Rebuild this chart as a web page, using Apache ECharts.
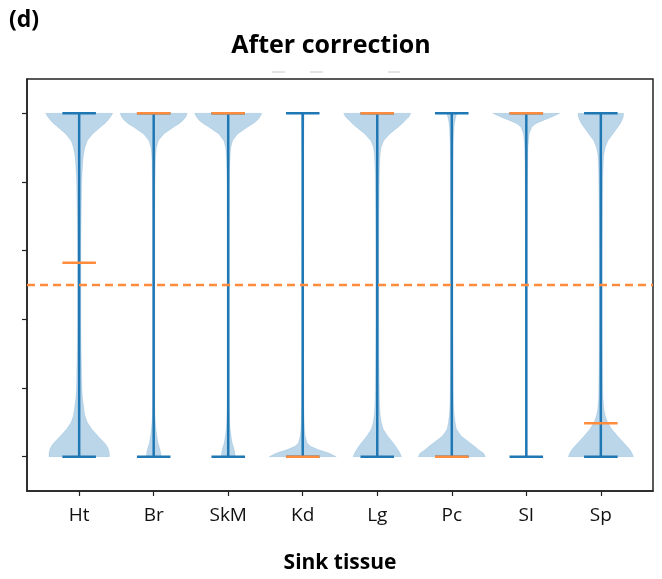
<!DOCTYPE html>
<html>
<head>
<meta charset="utf-8">
<script src="https://cdn.jsdelivr.net/npm/echarts@6/dist/echarts.min.js"></script>
<style>
html,body{margin:0;padding:0;background:#fff;}
#chart{width:662px;height:579px;}
</style>
</head>
<body>
<div id="chart"></div>
<script>
// ---- data ----
const categories = ['Ht', 'Br', 'SkM', 'Kd', 'Lg', 'Pc', 'SI', 'Sp'];
const minValues = [0, 0, 0, 0, 0, 0, 0, 0];
const maxValues = [1, 1, 1, 1, 1, 1, 1, 1];
const medianValues = [0.565, 1, 1, 0, 1, 0, 1, 0.097];
const thresholdValue = 0.5;
const yTicks = [0, 0.2, 0.4, 0.6, 0.8, 1.0];

// violin density profiles (relative half-width, 1 = widest) at these y values
const profileY = [0, 0.01, 0.02, 0.03, 0.04, 0.06, 0.08, 0.1, 0.12, 0.14, 0.17, 0.2, 0.3, 0.4, 0.5, 0.6, 0.7, 0.8, 0.83, 0.86, 0.88, 0.9, 0.92, 0.94, 0.96, 0.97, 0.98, 0.99, 1.0];
const densityHt  = [0.9, 0.9, 0.88, 0.83, 0.76, 0.56, 0.38, 0.24, 0.17, 0.14, 0.1, 0.08, 0.06, 0.05, 0.05, 0.05, 0.06, 0.075, 0.09, 0.11, 0.13, 0.17, 0.24, 0.4, 0.64, 0.76, 0.86, 0.94, 1.0];
const densityBr  = [0.22, 0.21, 0.19, 0.16, 0.13, 0.095, 0.07, 0.05, 0.04, 0.035, 0.03, 0.03, 0.03, 0.03, 0.03, 0.03, 0.03, 0.04, 0.045, 0.05, 0.06, 0.08, 0.14, 0.3, 0.6, 0.76, 0.88, 0.96, 1.0];
const densitySkM = [0.21, 0.2, 0.18, 0.15, 0.12, 0.085, 0.06, 0.045, 0.04, 0.035, 0.03, 0.03, 0.03, 0.03, 0.03, 0.03, 0.03, 0.035, 0.04, 0.05, 0.06, 0.075, 0.13, 0.28, 0.58, 0.74, 0.87, 0.95, 1.0];
const densityKd  = [1.0, 0.8, 0.48, 0.23, 0.13, 0.075, 0.055, 0.045, 0.04, 0.035, 0.03, 0.03, 0.025, 0.025, 0.025, 0.025, 0.025, 0.025, 0.025, 0.025, 0.025, 0.03, 0.03, 0.03, 0.035, 0.035, 0.04, 0.04, 0.04];
const densityLg  = [0.72, 0.68, 0.62, 0.55, 0.48, 0.31, 0.18, 0.12, 0.09, 0.075, 0.065, 0.06, 0.05, 0.045, 0.045, 0.045, 0.05, 0.06, 0.065, 0.075, 0.085, 0.11, 0.19, 0.37, 0.63, 0.74, 0.84, 0.95, 1.0];
const densityPc  = [1.0, 0.95, 0.8, 0.68, 0.55, 0.28, 0.14, 0.1, 0.075, 0.06, 0.05, 0.045, 0.04, 0.035, 0.035, 0.035, 0.035, 0.04, 0.04, 0.04, 0.045, 0.045, 0.05, 0.06, 0.07, 0.08, 0.1, 0.12, 0.15];
const densitySI  = [0.02, 0.02, 0.02, 0.02, 0.02, 0.02, 0.02, 0.02, 0.02, 0.02, 0.02, 0.02, 0.02, 0.02, 0.02, 0.02, 0.025, 0.03, 0.035, 0.04, 0.045, 0.05, 0.065, 0.085, 0.16, 0.28, 0.52, 0.78, 1.0];
const densitySp  = [0.97, 0.93, 0.87, 0.78, 0.69, 0.5, 0.33, 0.2, 0.13, 0.09, 0.065, 0.06, 0.05, 0.045, 0.045, 0.045, 0.05, 0.06, 0.065, 0.075, 0.09, 0.13, 0.21, 0.36, 0.51, 0.58, 0.63, 0.67, 0.68];
const densities = [densityHt, densityBr, densitySkM, densityKd, densityLg, densityPc, densitySI, densitySp];

// ---- styling ----
const BLUE = '#1f77b4';
const ORANGE = '#ff8c3c';
const HALF_WIDTH = 0.45;   // violin max half-width in x units
const CAP_HALF = 0.225;    // whisker cap half-length in x units
const FONT = '"Open Sans", "DejaVu Sans", sans-serif';

const positions = categories.map((c, i) => i + 1);
const idxData = categories.map((c, i) => [i + 1, i]);

function violinItem(params, api) {
  const i = api.value(1);
  const pos = api.value(0);
  const d = densities[i];
  const pts = [];
  for (let k = 0; k < profileY.length; k++) {
    pts.push(api.coord([pos - d[k] * HALF_WIDTH, profileY[k]]));
  }
  for (let k = profileY.length - 1; k >= 0; k--) {
    pts.push(api.coord([pos + d[k] * HALF_WIDTH, profileY[k]]));
  }
  return {
    type: 'polygon',
    shape: { points: pts, smooth: 0 },
    style: { fill: 'rgba(31,119,180,0.3)', stroke: 'rgba(31,119,180,0.12)', lineWidth: 1 }
  };
}

function whiskerItem(params, api) {
  const i = api.value(1);
  const pos = api.value(0);
  const lo = api.coord([pos, minValues[i]]);
  const hi = api.coord([pos, maxValues[i]]);
  const loL = api.coord([pos - CAP_HALF, minValues[i]]);
  const loR = api.coord([pos + CAP_HALF, minValues[i]]);
  const hiL = api.coord([pos - CAP_HALF, maxValues[i]]);
  const hiR = api.coord([pos + CAP_HALF, maxValues[i]]);
  const st = { stroke: BLUE, lineWidth: 2.5 };
  return {
    type: 'group',
    children: [
      { type: 'line', shape: { x1: lo[0], y1: lo[1], x2: hi[0], y2: hi[1] }, style: st },
      { type: 'line', shape: { x1: loL[0], y1: loL[1], x2: loR[0], y2: loR[1] }, style: st },
      { type: 'line', shape: { x1: hiL[0], y1: hiL[1], x2: hiR[0], y2: hiR[1] }, style: st }
    ]
  };
}

function medianItem(params, api) {
  const i = api.value(1);
  const pos = api.value(0);
  const a = api.coord([pos - CAP_HALF, medianValues[i]]);
  const b = api.coord([pos + CAP_HALF, medianValues[i]]);
  return {
    type: 'line',
    shape: { x1: a[0], y1: a[1], x2: b[0], y2: b[1] },
    style: { stroke: ORANGE, lineWidth: 2.5 }
  };
}

const chart = echarts.init(document.getElementById('chart'), null, { renderer: 'canvas' });
chart.setOption({
  animation: false,
  backgroundColor: '#fff',
  title: {
    text: 'After correction',
    left: 'center',
    top: 28,
    textStyle: { fontFamily: FONT, fontWeight: 'bold', fontSize: 25, color: '#000' }
  },
  graphic: [
    { type: 'text', left: 9, top: 9, style: { text: '(d)', fontFamily: FONT, fontWeight: 'bold', fontSize: 23, fill: '#000' } },
    { type: 'line', shape: { x1: 272, y1: 72, x2: 285, y2: 72 }, style: { stroke: '#c8c8c8', lineWidth: 1 } },
    { type: 'line', shape: { x1: 310, y1: 72, x2: 323, y2: 72 }, style: { stroke: '#c8c8c8', lineWidth: 1 } },
    { type: 'line', shape: { x1: 388, y1: 72, x2: 400, y2: 72 }, style: { stroke: '#c8c8c8', lineWidth: 1 } }
  ],
  grid: {
    left: 27, right: 9, top: 79, bottom: 83,
    show: true, borderColor: '#222', borderWidth: 1.5
  },
  xAxis: {
    type: 'value',
    min: 0.3, max: 8.7,
    name: 'Sink tissue',
    nameLocation: 'middle',
    nameGap: 62,
    nameTextStyle: { fontFamily: FONT, fontWeight: 'bold', fontSize: 21, color: '#000' },
    axisLine: { show: true, onZero: false, lineStyle: { color: '#222', width: 1.5 } },
    splitLine: { show: false },
    axisTick: { show: true, length: 5, customValues: positions, lineStyle: { color: '#222', width: 1.2 } },
    axisLabel: {
      customValues: positions,
      margin: 15,
      fontFamily: FONT, fontSize: 19, color: '#111',
      formatter: v => categories[Math.round(v) - 1] || ''
    }
  },
  yAxis: {
    type: 'value',
    min: -0.1, max: 1.1,
    axisLine: { show: true, onZero: false, lineStyle: { color: '#222', width: 1.5 } },
    splitLine: { show: false },
    axisTick: { show: true, length: 5, customValues: yTicks, lineStyle: { color: '#222', width: 1.2 } },
    axisLabel: { show: false, customValues: yTicks }
  },
  series: [
    {
      type: 'custom', name: 'violin', data: idxData, renderItem: violinItem,
      encode: { x: 0, y: -1 }, silent: true, z: 1
    },
    {
      type: 'custom', name: 'range', data: idxData, renderItem: whiskerItem,
      encode: { x: 0, y: -1 }, silent: true, z: 2
    },
    {
      type: 'custom', name: 'median', data: idxData, renderItem: medianItem,
      encode: { x: 0, y: -1 }, silent: true, z: 3,
      markLine: {
        silent: true, symbol: 'none', label: { show: false },
        lineStyle: { color: ORANGE, type: [8, 5], width: 2.3, opacity: 1 },
        data: [{ yAxis: thresholdValue }]
      }
    }
  ]
});
</script>
</body>
</html>
